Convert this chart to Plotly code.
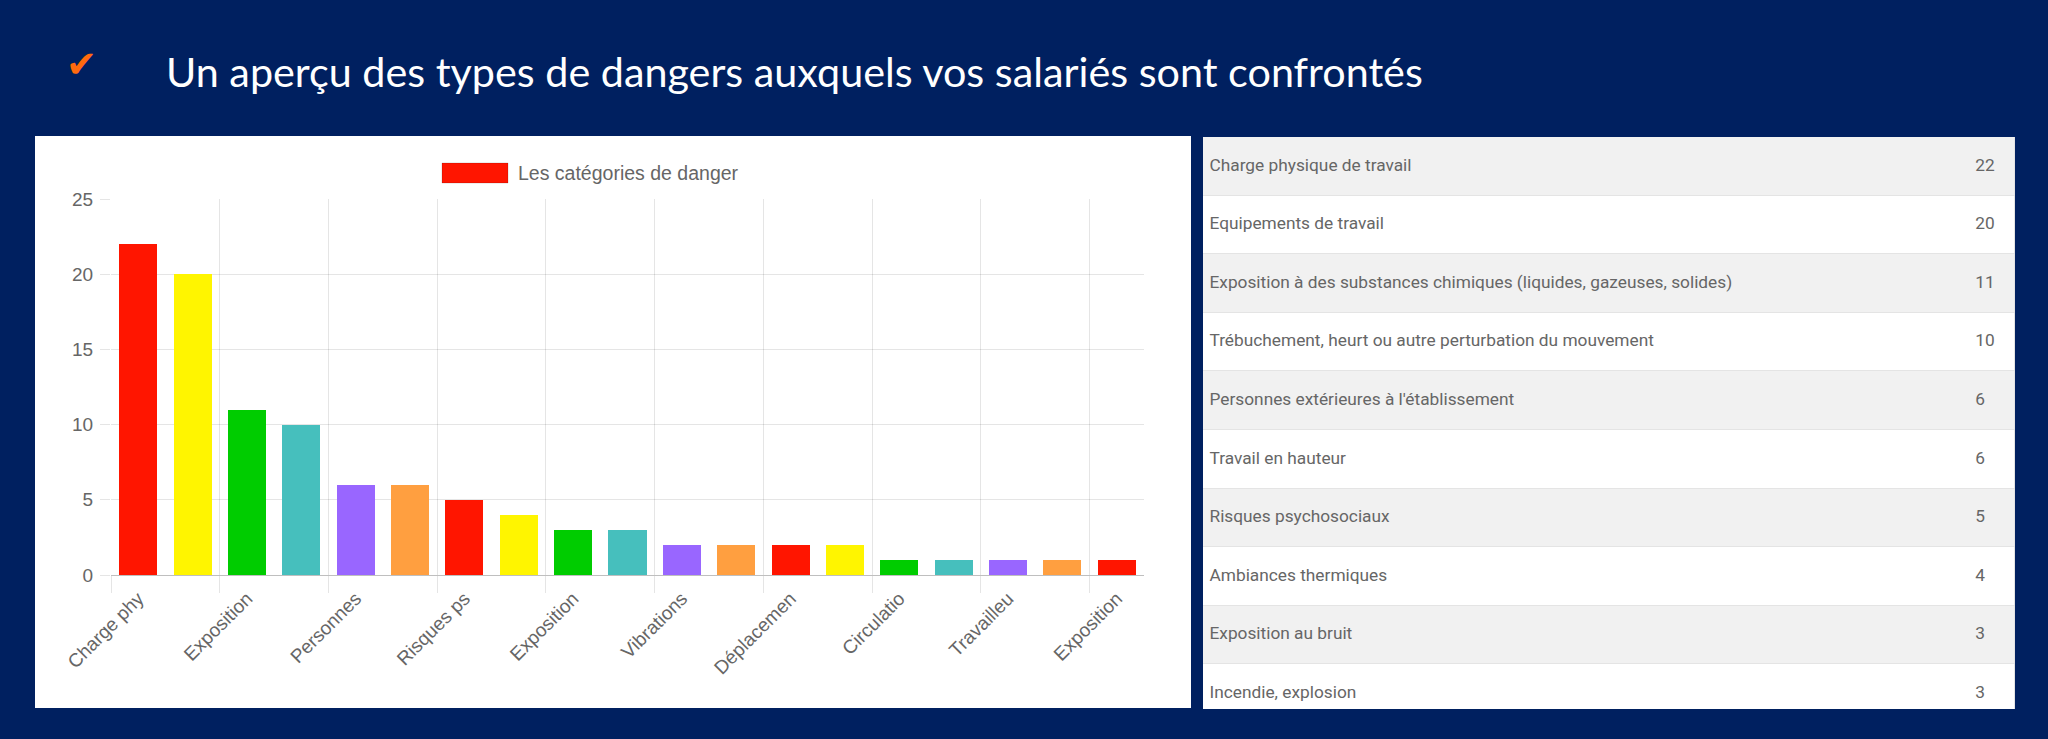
import plotly.graph_objects as go

W, H = 2048, 739

# bar chart data (Chart.js style, labels truncated to 10 chars, every other one shown)
values = [22, 20, 11, 10, 6, 6, 5, 4, 3, 3, 2, 2, 2, 2, 1, 1, 1, 1, 1]
tick_labels = ["Charge phy", "Exposition", "Personnes", "Risques ps", "Exposition",
               "Vibrations", "Déplacemen", "Circulatio", "Travailleu", "Exposition"]
palette = ["#FF1500", "#FFF500", "#00CC00", "#46BFBD", "#9966FF", "#FF9F40"]
legend_label = "Les catégories de danger"

# table data
row_names = ["Charge physique de travail",
             "Equipements de travail",
             "Exposition à des substances chimiques (liquides, gazeuses, solides)",
             "Trébuchement, heurt ou autre perturbation du mouvement",
             "Personnes extérieures à l'établissement",
             "Travail en hauteur",
             "Risques psychosociaux",
             "Ambiances thermiques",
             "Exposition au bruit",
             "Incendie, explosion"]
row_counts = [22, 20, 11, 10, 6, 6, 5, 4, 3, 3]

title = "Un aperçu des types de dangers auxquels vos salariés sont confrontés"


def px(x):
    return x / W


def py(y):
    return 1 - y / H


NAVY = "#002060"
GRID = "rgba(0,0,0,0.1)"
TXT = "#666666"
TBL_TXT = "#666666"

fig = go.Figure()

xs = list(range(len(values)))
fig.add_trace(go.Bar(
    x=xs, y=values, width=0.7,
    marker=dict(color=[palette[i % len(palette)] for i in xs], line=dict(width=0)),
    showlegend=False, hoverinfo="y",
))

# table drawn as a second subplot: row bands + text
rows = list(range(len(row_names)))
fig.add_trace(go.Bar(
    y=rows, x=[1] * len(rows), base=0, width=1, orientation="h",
    marker=dict(color=["#F1F1F1" if i % 2 == 0 else "#FFFFFF" for i in rows],
                line=dict(color="#E4E4E4", width=1)),
    xaxis="x2", yaxis="y2", showlegend=False, hoverinfo="skip",
))
fig.add_trace(go.Scatter(
    y=rows, x=[0.008] * len(rows), text=row_names, mode="text",
    textposition="middle right",
    textfont=dict(family="Roboto", size=17.3, color=TBL_TXT),
    xaxis="x2", yaxis="y2", showlegend=False, hoverinfo="skip",
))
fig.add_trace(go.Scatter(
    y=rows, x=[0.951] * len(rows), text=[str(c) for c in row_counts], mode="text",
    textposition="middle right",
    textfont=dict(family="Roboto", size=17.3, color=TBL_TXT),
    xaxis="x2", yaxis="y2", showlegend=False, hoverinfo="skip",
))

row_h = 58.6
tbl_top, tbl_bot = 137, 709
visible_rows = (tbl_bot - tbl_top) / row_h

fig.update_layout(
    width=W, height=H,
    margin=dict(l=0, r=0, t=0, b=0, pad=0),
    paper_bgcolor=NAVY, plot_bgcolor="rgba(0,0,0,0)",
    bargap=0,
    xaxis=dict(
        domain=[px(111), px(1144)], range=[-0.5, len(values) - 0.5],
        tickmode="array", tickvals=xs[::2], ticktext=tick_labels,
        tickangle=-45, ticks="outside", ticklen=4, tickcolor="rgba(0,0,0,0)",
        tickfont=dict(family="Liberation Sans", size=19, color=TXT),
        showgrid=False, zeroline=False, automargin=False,
        showline=True, linecolor="rgba(0,0,0,0.25)", linewidth=1,
        minor=dict(tickvals=[v - 0.5 for v in xs[::2]], showgrid=True, gridcolor=GRID,
                   gridwidth=1, ticks="outside", ticklen=17, tickcolor=GRID, tickwidth=1),
        fixedrange=True,
    ),
    yaxis=dict(
        domain=[py(575), py(199)], range=[0, 25], dtick=5,
        showgrid=True, gridcolor=GRID, gridwidth=1, zeroline=False,
        ticks="outside", ticklen=10, tickcolor=GRID, automargin=False,
        tickfont=dict(family="Liberation Sans", size=19, color=TXT),
        ticklabelstandoff=3, fixedrange=True,
    ),
    xaxis2=dict(domain=[px(1203), px(2015)], range=[0, 1], visible=False, anchor="y2",
                automargin=False, fixedrange=True),
    yaxis2=dict(domain=[py(tbl_bot), py(tbl_top)], range=[visible_rows - 0.5, -0.5],
                visible=False, anchor="x2", automargin=False, fixedrange=True),
    shapes=[
        dict(type="rect", xref="paper", yref="paper", layer="below",
             x0=px(35), x1=px(1191), y0=py(708), y1=py(136),
             fillcolor="white", line=dict(width=0)),
        dict(type="rect", xref="paper", yref="paper",
             x0=px(442), x1=px(508), y0=py(183), y1=py(163),
             fillcolor=palette[0], line=dict(color="rgba(0,0,0,0.15)", width=1)),
    ],
    annotations=[
        dict(text=legend_label, xref="paper", yref="paper", x=px(516), y=py(173),
             xanchor="left", yanchor="middle", showarrow=False,
             font=dict(family="Liberation Sans", size=19.5, color=TXT)),
        dict(text=title, xref="paper", yref="paper", x=px(164), y=py(71),
             xanchor="left", yanchor="middle", showarrow=False,
             font=dict(family="Lato", size=41.3, color="white")),
        dict(text="✔", xref="paper", yref="paper", x=px(81), y=py(64),
             xanchor="center", yanchor="middle", showarrow=False,
             font=dict(family="DejaVu Sans", size=37, color="#FF6A0E")),
    ],
)

fig.write_html(
    "out.html",
    config={"displayModeBar": False},
    post_script="document.body.style.margin='0';document.body.style.background='#002060';",
)
